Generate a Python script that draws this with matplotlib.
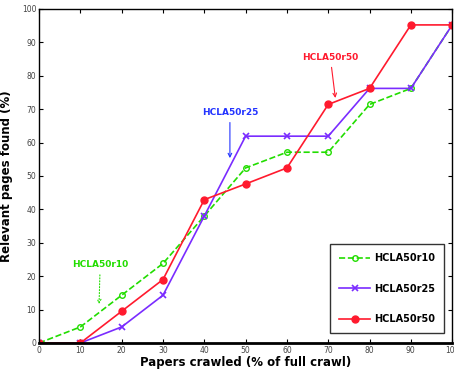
import matplotlib
matplotlib.use('Agg')
import matplotlib.pyplot as plt

x = [0, 10, 20, 30, 40, 50, 60, 70, 80, 90, 100]
r10 = [0, 4.8, 14.3, 23.8, 38.0, 52.4, 57.1, 57.1, 71.4, 76.2, 95.2]
r25 = [0, 0, 4.8, 14.3, 38.0, 61.9, 61.9, 61.9, 76.2, 76.2, 95.2]
r50 = [0, 0, 9.5, 19.0, 42.9, 47.6, 52.4, 71.4, 76.2, 95.2, 95.2]
xticks = [0, 10, 20, 30, 40, 50, 60, 70, 80, 90, 100]
yticks = [0, 10, 20, 30, 40, 50, 60, 70, 80, 90, 100]

fig = plt.figure(figsize=(4.54, 3.70), dpi=100)
ax = fig.add_axes([0.086, 0.073, 0.91, 0.903])

ax.plot(x, r10, '--o', color='#22dd00', lw=1.2, ms=4, mfc='none', mew=1, label='HCLA50r10')
ax.plot(x, r25, '-x', color='#7a2cff', lw=1.2, ms=5, mew=1.2, label='HCLA50r25')
ax.plot(x, r50, '-o', color='#ff1a2e', lw=1.2, ms=5, label='HCLA50r50')

ax.annotate('HCLA50r50', xy=(71.8, 72.5), xytext=(70.5, 85.5), color='#ff1a2e',
            fontsize=6.5, fontweight='bold', ha='center', va='center',
            arrowprops=dict(arrowstyle='->', color='#ff1a2e', lw=0.8))
ax.annotate('HCLA50r25', xy=(46.2, 54.5), xytext=(46.2, 69.0), color='#2233ff',
            fontsize=6.5, fontweight='bold', ha='center', va='center',
            arrowprops=dict(arrowstyle='->', color='#2233ff', lw=0.8))
ax.annotate('HCLA50r10', xy=(14.5, 10.8), xytext=(14.8, 23.4), color='#22dd00',
            fontsize=6.5, fontweight='bold', ha='center', va='center',
            arrowprops=dict(arrowstyle='->', color='#22dd00', lw=0.8, ls=':'))

ax.set_xlim(0, 100)
ax.set_ylim(0, 100)
ax.set_xticks(xticks)
ax.set_yticks(yticks)
ax.tick_params(direction='in', top=True, right=True, labelsize=5.5, labelcolor='#444444',
               length=3, pad=2)
for s in ax.spines.values():
    s.set_linewidth(1.0)
ax.spines['bottom'].set_linewidth(2.0)

ax.set_xlabel('Papers crawled (% of full crawl)', fontsize=8.5, fontweight='bold', labelpad=1)
ax.set_ylabel('Relevant pages found (%)', fontsize=8.5, fontweight='bold', labelpad=6)

leg = ax.legend(loc='lower right', bbox_to_anchor=(0.987, 0.022), fancybox=False,
                edgecolor='black', prop={'size': 7, 'weight': 'bold'},
                labelspacing=2.1, handlelength=3.2, handletextpad=0.4,
                borderpad=0.9, borderaxespad=0.3)
leg.get_frame().set_linewidth(1.0)

fig.savefig('out.png', dpi=100)
